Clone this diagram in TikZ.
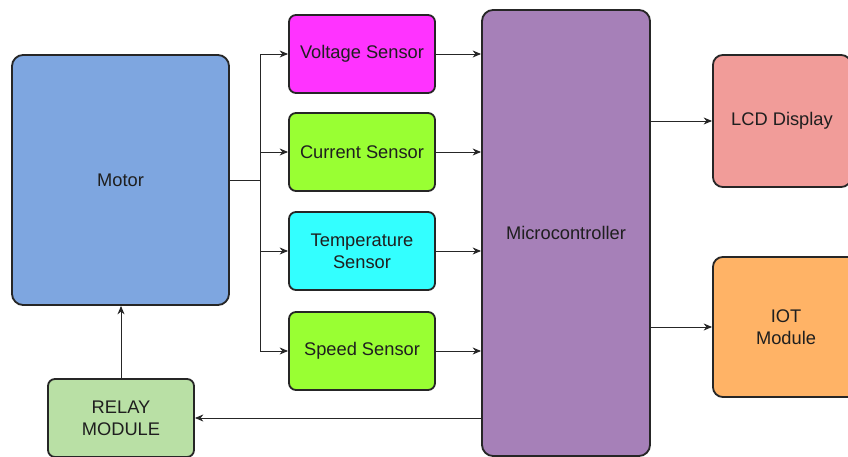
\documentclass[tikz,border=0pt]{standalone}
\usepackage{fontspec}
\setmainfont{Liberation Sans}
\usepackage{xcolor}
\usetikzlibrary{arrows.meta}

\definecolor{motorblue}{HTML}{7EA6E0}
\definecolor{voltpink}{HTML}{FF33FF}
\definecolor{sensgreen}{HTML}{99FF33}
\definecolor{tempcyan}{HTML}{33FFFF}
\definecolor{micropurple}{HTML}{A680B8}
\definecolor{lcdred}{HTML}{F19C99}
\definecolor{iotorange}{HTML}{FFB366}
\definecolor{relaygreen}{HTML}{B9E0A5}
\definecolor{edgegray}{HTML}{262626}
\definecolor{textgray}{HTML}{1F1F1F}

\tikzset{
    block/.style={draw=edgegray, line width=1.3pt, rounded corners=5pt, align=center,
        text=textgray, font=\fontsize{13}{15.5}\selectfont, inner sep=2pt},
    link/.style={draw=edgegray, line width=0.7pt, -{Stealth[length=6pt, width=5pt]}}
}

\begin{document}
\begin{tikzpicture}[x=0.025cm, y=-0.025cm]
        \useasboundingbox (0, 0) rectangle (848, 457);
        % Blocks
        \node [block, fill=motorblue, rounded corners=8pt, minimum width=5.425cm, minimum height=6.25cm] (motor) at (120.5, 180) {Motor};
        \node [block, fill=voltpink, minimum width=3.65cm, minimum height=1.95cm] (volt) at (362, 54) {Voltage Sensor};
        \node [block, fill=sensgreen, minimum width=3.65cm, minimum height=1.95cm] (curr) at (362, 152) {Current Sensor};
        \node [block, fill=tempcyan, minimum width=3.65cm, minimum height=1.95cm] (temp) at (362, 251) {Temperature\\Sensor};
        \node [block, fill=sensgreen, minimum width=3.65cm, minimum height=1.95cm] (speed) at (362, 351) {Speed Sensor};
        \node [block, fill=micropurple, rounded corners=8pt, minimum width=4.2cm, minimum height=11.15cm] (micro) at (566, 233) {Microcontroller};
        \node [block, fill=lcdred, rounded corners=7pt, minimum width=3.45cm, minimum height=3.3cm] (lcd) at (782, 121) {LCD Display};
        \node [block, fill=iotorange, rounded corners=7pt, minimum width=3.65cm, minimum height=3.5cm] (iot) at (786, 327) {IOT\\Module};
        \node [block, fill=relaygreen, minimum width=3.65cm, minimum height=1.95cm] (relay) at (121, 418) {RELAY\\MODULE};
        % Motor to sensors
        \coordinate (split) at (260, 180);
        \draw [draw=edgegray, line width=0.7pt] (motor.east) -- (split);
        \foreach \s in {volt, curr, temp, speed}
            \draw [link] (split) |- (\s.west);
        % Sensors to microcontroller
        \foreach \s in {volt, curr, temp, speed}
            \draw [link] (\s.east) -- (\s.east -| micro.west);
        % Outputs
        \draw [link] (micro.east |- lcd.west) -- (lcd.west);
        \draw [link] (micro.east |- iot.west) -- (iot.west);
        \draw [link] (micro.west |- relay.east) -- (relay.east);
        \draw [link] (relay.north) -- (motor.south -| relay.north);
    \end{tikzpicture}
\end{document}
